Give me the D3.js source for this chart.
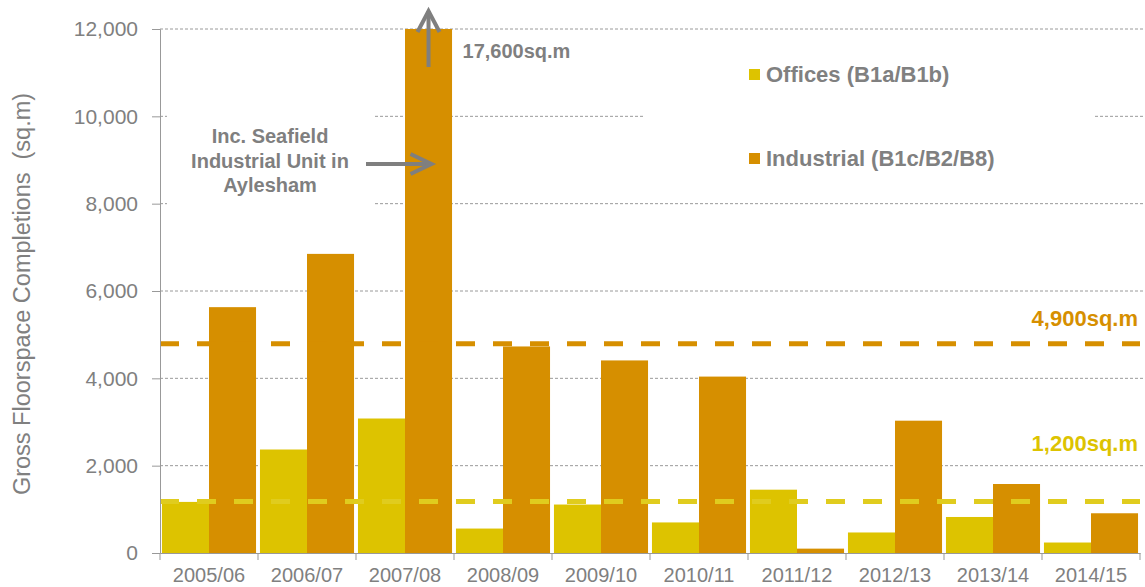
<!DOCTYPE html>
<html>
<head>
<meta charset="utf-8">
<script src="https://cdn.jsdelivr.net/npm/d3@7"></script>
<style>
  body { margin: 0; background: #fff; }
  svg { font-family: "Liberation Sans", Arial, sans-serif; }
</style>
</head>
<body>
<div id="chart-area"></div>
<script>
// data
const years = ["2005/06", "2006/07", "2007/08", "2008/09", "2009/10",
  "2010/11", "2011/12", "2012/13", "2013/14", "2014/15"];
const offices = [1170, 2370, 3080, 560, 1110, 700, 1450, 470, 825, 240];
const industrial = [5630, 6850, 17600, 4730, 4410, 4040, 100, 3030, 1580, 910];
const seriesNames = ["Offices (B1a/B1b)", "Industrial (B1c/B2/B8)"];
const averages = [1180, 4790];
const averageLabels = ["1,200sq.m", "4,900sq.m"];
const yTicks = [0, 2000, 4000, 6000, 8000, 10000, 12000];

const colors = ["#ddc300", "#d68f00"];
const lineColors = ["#e0cc1e", "#d68f00"];
const grey = "#808080";

const width = 1145, height = 587;
const margin = { top: 29, right: 5, bottom: 34, left: 160 };
const innerW = width - margin.left - margin.right;
const innerH = height - margin.top - margin.bottom;

const svg = d3.select("#chart-area").append("svg")
  .attr("width", width)
  .attr("height", height);

const g = svg.append("g")
  .attr("transform", "translate(" + margin.left + "," + margin.top + ")");

const x = d3.scaleBand()
  .domain(years)
  .range([0, innerW])
  .paddingInner(0.04)
  .paddingOuter(0.02);

const x1 = d3.scaleBand()
  .domain([0, 1])
  .range([0, x.bandwidth()]);

// clamp so the 17,600 bar stops at the top of the axis
const y = d3.scaleLinear()
  .domain([0, 12000])
  .range([innerH, 0])
  .clamp(true);

// gridlines
g.append("g")
  .selectAll("line")
  .data(yTicks.filter(d => d > 0))
  .enter().append("line")
  .attr("x1", 0)
  .attr("x2", innerW + 5)
  .attr("y1", d => y(d))
  .attr("y2", d => y(d))
  .attr("stroke", "#9a9a9a")
  .attr("stroke-width", 1)
  .attr("stroke-dasharray", "3,2");

// white boxes behind annotation + legend (they hide the grid like in the original)
g.append("rect")
  .attr("x", 7).attr("y", 75).attr("width", 207).attr("height", 110)
  .attr("fill", "#fff");
g.append("rect")
  .attr("x", 485).attr("y", 10).attr("width", 450).attr("height", 160)
  .attr("fill", "#fff");

// bars
const groups = g.append("g")
  .selectAll("g")
  .data(years)
  .enter().append("g")
  .attr("transform", d => "translate(" + x(d) + ",0)");

groups.selectAll("rect")
  .data((d, i) => [offices[i], industrial[i]])
  .enter().append("rect")
  .attr("x", (d, j) => x1(j))
  .attr("width", x1.bandwidth())
  .attr("y", d => y(d))
  .attr("height", d => innerH - y(d))
  .attr("fill", (d, j) => colors[j]);

// average lines
g.append("g")
  .selectAll("line")
  .data(averages)
  .enter().append("line")
  .attr("x1", 0)
  .attr("x2", innerW)
  .attr("y1", d => y(d))
  .attr("y2", d => y(d))
  .attr("stroke", (d, i) => lineColors[i])
  .attr("stroke-width", 5)
  .attr("stroke-dasharray", "19,18");

const labelLift = [50, 18];
g.append("g")
  .selectAll("text")
  .data(averages)
  .enter().append("text")
  .attr("x", innerW - 2)
  .attr("y", (d, i) => y(d) - labelLift[i])
  .attr("text-anchor", "end")
  .attr("font-size", 22)
  .attr("font-weight", "bold")
  .attr("fill", (d, i) => colors[i])
  .text((d, i) => averageLabels[i]);

// axes
const yAxis = g.append("g")
  .call(d3.axisLeft(y).tickValues(yTicks).tickSize(8).tickPadding(14)
    .tickFormat(d3.format(",")));
yAxis.select(".domain").attr("stroke", "#999");
yAxis.selectAll(".tick line").attr("stroke", "#999");
yAxis.selectAll("text").attr("font-size", 21).attr("fill", grey)
  .attr("font-family", "Liberation Sans, Arial, sans-serif");

const xAxis = g.append("g")
  .attr("transform", "translate(0," + innerH + ")")
  .call(d3.axisBottom(x).tickSize(0).tickPadding(15));
xAxis.select(".domain").attr("stroke", "#999");
xAxis.selectAll("text").attr("font-size", 20).attr("fill", grey)
  .attr("font-family", "Liberation Sans, Arial, sans-serif");

// tick marks between categories
const bounds = years.map((d, i) => i === 0 ? 0 : (x(years[i - 1]) + x.bandwidth() + x(d)) / 2);
bounds.push(innerW);
xAxis.selectAll(".sep")
  .data(bounds)
  .enter().append("line")
  .attr("class", "sep")
  .attr("x1", d => d).attr("x2", d => d)
  .attr("y1", 0).attr("y2", 7)
  .attr("stroke", "#999");

// y axis title
svg.append("text")
  .attr("transform", "translate(30,294) rotate(-90)")
  .attr("text-anchor", "middle")
  .attr("font-size", 23.5)
  .attr("fill", grey)
  .style("white-space", "pre")
  .text("Gross Floorspace Completions  (sq.m)");

// legend
const legend = g.append("g")
  .attr("transform", "translate(" + (589) + "," + (40) + ")");

seriesNames.forEach(function (name, i) {
  const legendRow = legend.append("g")
    .attr("transform", "translate(0, " + (i * 84) + ")");

  legendRow.append("rect")
    .attr("width", 11)
    .attr("height", 11)
    .attr("fill", colors[i]);

  legendRow.append("text")
    .attr("x", 17)
    .attr("y", 5)
    .attr("dy", "0.35em")
    .attr("font-size", 22)
    .attr("font-weight", "bold")
    .attr("fill", grey)
    .text(name);
});

// annotations
const arrowGrey = "#7f7f7f";
const iBar = x(years[2]) + x1(1) + x1.bandwidth() / 2;

const note = g.append("text")
  .attr("text-anchor", "middle")
  .attr("font-size", 20)
  .attr("font-weight", "bold")
  .attr("fill", arrowGrey);
["Inc. Seafield", "Industrial Unit in", "Aylesham"].forEach((t, i) => {
  note.append("tspan")
    .attr("x", 110)
    .attr("y", 114 + i * 24.5)
    .text(t);
});

g.append("text")
  .attr("x", iBar + 34)
  .attr("y", 29)
  .attr("font-size", 20)
  .attr("font-weight", "bold")
  .attr("fill", arrowGrey)
  .text("17,600sq.m");

// horizontal arrow
g.append("line")
  .attr("x1", 206).attr("x2", iBar + 2)
  .attr("y1", 135).attr("y2", 135)
  .attr("stroke", arrowGrey).attr("stroke-width", 4);
g.append("path")
  .attr("d", "M" + (iBar - 18) + ",125 L" + (iBar + 3) + ",135 L" + (iBar - 18) + ",145")
  .attr("fill", "none").attr("stroke", arrowGrey).attr("stroke-width", 4);

// vertical arrow
g.append("line")
  .attr("x1", iBar).attr("x2", iBar)
  .attr("y1", 38).attr("y2", -18)
  .attr("stroke", arrowGrey).attr("stroke-width", 4);
g.append("path")
  .attr("d", "M" + (iBar - 11) + ",3 L" + iBar + ",-18 L" + (iBar + 11) + ",3")
  .attr("fill", "none").attr("stroke", arrowGrey).attr("stroke-width", 4);
</script>
</body>
</html>
